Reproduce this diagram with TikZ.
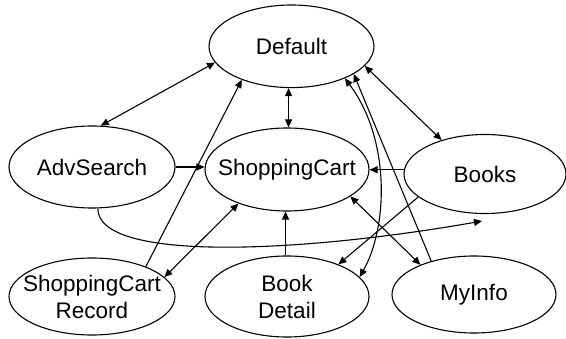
\documentclass[tikz,border=0pt]{standalone}
\usepackage{fontspec}
\setmainfont{Liberation Sans}
\usetikzlibrary{arrows.meta,calc,shapes.geometric}
\begin{document}
\begin{tikzpicture}[x=1pt,y=1pt,line width=1.1pt,
  st/.style={draw, ellipse, inner sep=0pt, line width=1.1pt},
  tip/.style={-{Triangle[length=8pt,width=7pt]}},
  btip/.style={{Triangle[length=8pt,width=7pt]}-{Triangle[length=8pt,width=7pt]}},
  lbl/.style={font=\fontsize{22.5}{27}\selectfont, align=center, inner sep=0pt}
]
\useasboundingbox (0,0) rectangle (566,338);

\node[st, minimum width=165pt, minimum height=82.6pt, label={[lbl]center:Default}] (D) at (291.5,291.7) {};
\node[st, minimum width=164pt, minimum height=83pt, label={[lbl]center:ShoppingCart}] (SC) at (287,168.5) {};
\node[st, minimum width=166pt, minimum height=82pt, label={[lbl]center:AdvSearch}] (AS) at (92,171) {};
\node[st, minimum width=162pt, minimum height=79pt, label={[lbl]center:Books}] (B) at (485,164) {};
\node[st, minimum width=166pt, minimum height=77pt, label={[lbl]center:{ShoppingCart\\Record}}] (SCR) at (92,41.5) {};
\node[st, minimum width=164pt, minimum height=81pt, label={[lbl]center:{Book\\Detail}}] (BD) at (287,41.5) {};
\node[st, minimum width=164pt, minimum height=77pt, label={[lbl]center:MyInfo}] (MI) at (474,43.5) {};

\coordinate (bt) at ($(B.south)+(-3,-7)$);

\draw[btip] (D.192) -- (AS.78);
\draw[btip] (D.266) -- (D.266 |- SC.north);
\draw[btip] (D.345) -- (B.142);
\draw[tip] (SCR.29) -- (D.214);
\draw[btip] (SCR.15) -- (SC.215);
\draw[tip] (AS.east) -- (AS.east -| SC.west);
\draw[tip] (B.177) -- (B.177 -| SC.east);
\draw[tip] (BD.92) -- (BD.92 |- SC.south);
\draw[btip] (SC.337) -- (MI.151);
\draw[tip] (B.199) -- (BD.32);
\draw[tip] (AS.278) .. controls ($(AS.278)+(0,-54)$) and ($(bt)+(-181.7,-32)$) .. (bt);
\draw[btip] (D.329) .. controls ($(D.329)+(45.3,-60)$) and ($(BD.15)+(28.7,51)$) .. (BD.15);
\draw[tip] (MI.142) -- (D.336);
\end{tikzpicture}
\end{document}
